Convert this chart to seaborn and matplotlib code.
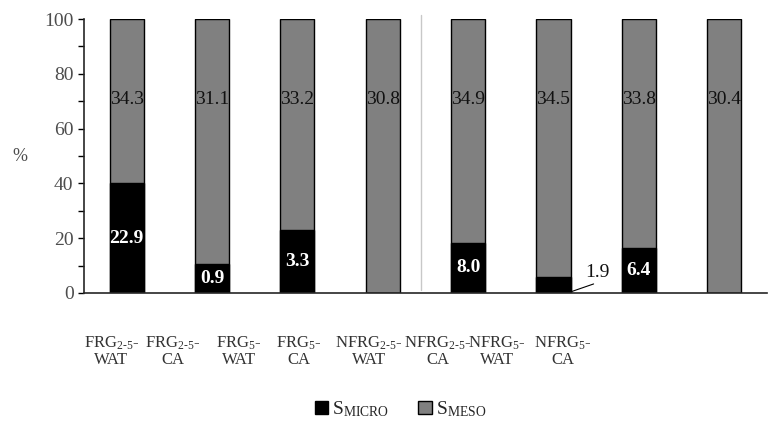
import pandas as pd
import seaborn as sns
import matplotlib.pyplot as plt
from matplotlib.patches import Patch

# Data
categories = ['FRG2-5-WAT', 'FRG2-5-CA', 'FRG5-WAT', 'FRG5-CA',
              'NFRG2-5-WAT', 'NFRG2-5-CA', 'NFRG5-WAT', 'NFRG5-CA']
tick_labels = [r'FRG$_{2\text{-}5}$-' + '\nWAT', r'FRG$_{2\text{-}5}$-' + '\nCA',
               r'FRG$_{5}$-' + '\nWAT', r'FRG$_{5}$-' + '\nCA',
               r'NFRG$_{2\text{-}5}$-' + '\nWAT', r'NFRG$_{2\text{-}5}$-' + '\nCA',
               r'NFRG$_{5}$-' + '\nWAT', r'NFRG$_{5}$-' + '\nCA']
micro_pct = [40.0, 10.5, 23.0, 0.0, 18.4, 5.7, 16.3, 0.0]
total_pct = [100, 100, 100, 100, 100, 100, 100, 100]
micro_vals = ['22.9', '0.9', '3.3', '', '8.0', '1.9', '6.4', '']
meso_vals = ['34.3', '31.1', '33.2', '30.8', '34.9', '34.5', '33.8', '30.4']

df = pd.DataFrame({'cat': categories, 'micro': micro_pct, 'total': total_pct})

sns.set_style('ticks')
plt.rcParams['font.family'] = ['Liberation Serif', 'DejaVu Serif']
plt.rcParams['mathtext.fontset'] = 'custom'
plt.rcParams['mathtext.rm'] = 'Liberation Serif'
plt.rcParams['mathtext.it'] = 'Liberation Serif:italic'
plt.rcParams['mathtext.bf'] = 'Liberation Serif:bold'

fig = plt.figure(figsize=(7.7, 4.24), dpi=100)
ax = fig.add_axes([0.109, 0.309, 0.887, 0.646])

sns.barplot(data=df, x='cat', y='total', color='#808080', edgecolor='black',
            linewidth=1, width=0.4, saturation=1, ax=ax)
sns.barplot(data=df, x='cat', y='micro', color='black', edgecolor='black',
            linewidth=1, width=0.4, saturation=1, ax=ax)

# value labels
for i, (m, v, h) in enumerate(zip(micro_vals, meso_vals, micro_pct)):
    ax.text(i, 70.5, v, ha='center', va='center', fontsize=14, color='#111111')
    if m == '1.9':
        ax.text(i + 0.52, 7.5, m, ha='center', va='center', fontsize=14, color='#111111')
        ax.plot([i + 0.21, i + 0.47], [0.5, 3.3], color='black', lw=0.8, clip_on=False)
    elif m:
        ax.text(i, h / 2, m, ha='center', va='center', fontsize=14,
                color='white', fontweight='bold')

# separator between FRG and NFRG groups
ax.plot([3.45, 3.45], [1, 101.5], color='#c8c8c8', lw=1, clip_on=False)

ax.set_xlim(-0.5, 7.5)
ax.set_ylim(0, 100)
ax.set_yticks(range(0, 101, 20))
ax.set_yticks(range(10, 100, 20), minor=True)
ax.tick_params(axis='y', which='both', direction='out', length=4, width=1,
               labelsize=14, labelcolor='#4d4d4d', color='black')
label_pos = [-0.18, 0.54, 1.32, 2.02, 2.84, 3.64, 4.34, 5.11]
ax.set_xticks(label_pos, tick_labels)
ax.tick_params(axis='x', length=0, pad=30, labelsize=12, labelcolor='#333333')
for lbl in ax.get_xticklabels():
    lbl.set_linespacing(1.0)

ax.set_xlabel('')
ax.set_ylabel('%', rotation=0, fontsize=13, color='#4d4d4d')
ax.yaxis.set_label_coords(-0.094, 0.467)
sns.despine(ax=ax)
ax.spines['left'].set_linewidth(1.2)
ax.spines['bottom'].set_linewidth(1.2)

handles = [Patch(facecolor='black', edgecolor='black'),
           Patch(facecolor='#808080', edgecolor='black')]
fig.legend(handles, [r'S$_\mathrm{MICRO}$', r'S$_\mathrm{MESO}$'],
           loc='center', bbox_to_anchor=(0.52, 0.035), ncol=2, frameon=False,
           fontsize=14, handlelength=0.7, handleheight=0.7, handletextpad=0.2,
           columnspacing=1.5)

fig.savefig('out.png', dpi=100)
